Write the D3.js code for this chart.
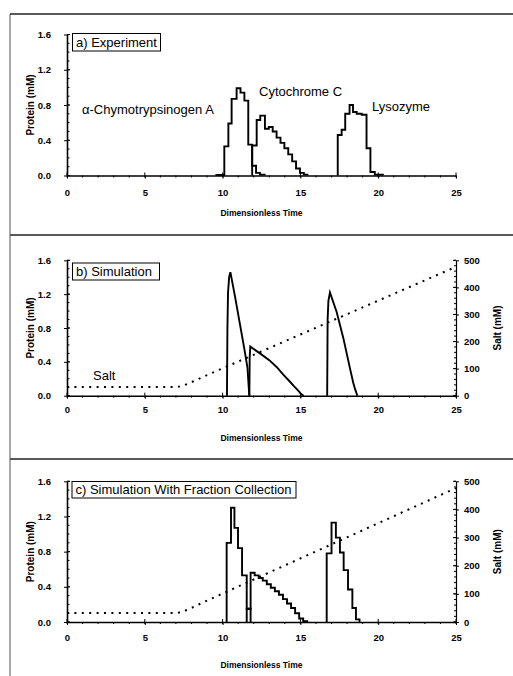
<!DOCTYPE html>
<html><head><meta charset="utf-8">
<script src="https://cdn.jsdelivr.net/npm/d3@7"></script>
<style>
body{margin:0;background:#fff}
svg{display:block}
text{font-family:"Liberation Sans",Arial,Helvetica,sans-serif;fill:#000}
</style></head>
<body><svg id="chart" width="513" height="676"></svg>
<script>
// ---- tick labels ----
const timeTicks = [0, 5, 10, 15, 20, 25];
const proteinTicks = [0, 0.4, 0.8, 1.2, 1.6];
const saltTicks = [0, 100, 200, 300, 400, 500];

// ---- panel a: experiment (fraction edges + values) ----
const expChymoEdges = [9.6, 10.11, 10.37, 10.58, 10.9, 11.15, 11.4, 11.65, 11.9, 12.15, 12.4, 12.7];
const expChymoValues = [0.005, 0.33, 0.59, 0.87, 0.99, 0.94, 0.85, 0.35, 0.11, 0.03, 0.01];
const expCytoEdges = [11.9, 12.19, 12.42, 12.72, 12.97, 13.22, 13.47, 13.72, 13.97, 14.22, 14.47, 14.72, 14.97, 15.22, 15.45];
const expCytoValues = [0.34, 0.63, 0.68, 0.53, 0.55, 0.5, 0.43, 0.37, 0.31, 0.24, 0.16, 0.08, 0.03, 0.01];
const expLysoEdges = [17.4, 17.65, 17.88, 18.16, 18.38, 18.62, 18.94, 19.25, 19.5, 19.78, 20.3];
const expLysoValues = [0.46, 0.52, 0.7, 0.8, 0.72, 0.7, 0.69, 0.31, 0.04, 0.01];

// ---- panel b: simulation (continuous curves) ----
const simChymoT = [10.28, 10.31, 10.35, 10.42, 10.5, 10.8, 11.1, 11.4, 11.6, 11.68, 11.72];
const simChymoV = [0, 0.8, 1.22, 1.4, 1.46, 1.17, 0.86, 0.55, 0.33, 0.1, 0];
const simCytoT = [11.72, 11.74, 11.78, 12.4, 13.0, 13.47, 13.9, 14.33, 14.6, 14.86, 15.05, 15.2];
const simCytoV = [0, 0.45, 0.58, 0.5, 0.42, 0.34, 0.25, 0.165, 0.11, 0.06, 0.02, 0];
const simLysoT = [16.72, 16.75, 16.8, 16.9, 17.33, 17.76, 18.19, 18.4, 18.51, 18.66];
const simLysoV = [0, 0.9, 1.12, 1.22, 0.99, 0.68, 0.32, 0.15, 0.08, 0];

// ---- salt gradient (panels b, c) ----
const saltT = [0, 7.1, 7.5, 8.0, 8.5, 9.0, 25];
const saltV = [32, 32, 38, 50, 63, 76, 476];

// ---- panel c: simulation with fraction collection ----
const fcChymoEdges = [10.26, 10.54, 10.76, 10.99, 11.25, 11.55, 11.8];
const fcChymoValues = [0.9, 1.3, 1.07, 0.84, 0.53, 0.15];
const fcCytoEdges = [11.55, 11.8, 12.06, 12.32, 12.58, 12.84, 13.1, 13.36, 13.62, 13.88, 14.14, 14.4, 14.66, 14.92, 15.18, 15.44];
const fcCytoValues = [0.15, 0.56, 0.53, 0.5, 0.47, 0.43, 0.39, 0.35, 0.31, 0.26, 0.21, 0.16, 0.1, 0.04, 0.01];
const fcLysoEdges = [16.69, 17.0, 17.28, 17.54, 17.78, 18.06, 18.34, 18.57, 18.8];
const fcLysoValues = [0.78, 1.13, 0.96, 0.79, 0.59, 0.37, 0.16, 0.03];

// ---- helpers ----
function stepPoints(edges, values) {
  const pts = [[edges[0], 0]];
  values.forEach((v, i) => { pts.push([edges[i], v]); pts.push([edges[i + 1], v]); });
  pts.push([edges[edges.length - 1], 0]);
  return pts;
}
function curvePoints(ts, vs) { return ts.map((t, i) => [t, vs[i]]); }

const panels = [
  { label: 'a) Experiment', top: 34.5, bottom: 175.5, salt: false, box: [72.5, 33.5, 88, 17.5], textBase: 46.8,
    xLabelPad: 11, titleY: 216,
    series: [stepPoints(expChymoEdges, expChymoValues), stepPoints(expCytoEdges, expCytoValues), stepPoints(expLysoEdges, expLysoValues)] },
  { label: 'b) Simulation', top: 260.3, bottom: 395.7, salt: true, box: [72.5, 263, 87, 17], textBase: 276,
    xLabelPad: 8, titleY: 441,
    series: [curvePoints(simChymoT, simChymoV), curvePoints(simCytoT, simCytoV), curvePoints(simLysoT, simLysoV)] },
  { label: 'c) Simulation With Fraction Collection', top: 481.3, bottom: 622, salt: true, box: [72, 481.5, 224, 16.5], textBase: 494.3,
    xLabelPad: 9.5, titleY: 668,
    series: [stepPoints(fcChymoEdges, fcChymoValues), stepPoints(fcCytoEdges, fcCytoValues), stepPoints(fcLysoEdges, fcLysoValues)] }
];

const svg = d3.select('#chart');
const X0 = 67, X1 = 456;

// frame lines
[14, 235, 459].forEach(yy => svg.append('line').attr('x1', 10).attr('x2', 513).attr('y1', yy).attr('y2', yy)
  .attr('stroke', '#222').attr('stroke-width', 1.4));
svg.append('line').attr('x1', 10).attr('x2', 10).attr('y1', 14).attr('y2', 676).attr('stroke', '#555').attr('stroke-width', 1);

panels.forEach(p => {
  const g = svg.append('g');
  const x = d3.scaleLinear().domain([0, 25]).range([X0, X1]);
  const y = d3.scaleLinear().domain([0, 1.6]).range([p.bottom, p.top]);
  const s = d3.scaleLinear().domain([0, 500]).range([p.bottom, p.top]);

  // left axis
  const ya = g.append('g').attr('transform', `translate(${X0},0)`)
    .call(d3.axisLeft(y).tickValues(proteinTicks).tickFormat(d3.format('.1f')).tickSizeInner(3).tickSizeOuter(0).tickPadding(13));
  ya.selectAll('text').attr('font-size', 9.5).attr('font-weight', 'bold');
  d3.range(0, 1.61, 0.1).forEach(v => g.append('line').attr('x1', X0).attr('x2', X0 + 2.5).attr('y1', y(v)).attr('y2', y(v)).attr('stroke', '#000'));
  proteinTicks.forEach(v => g.append('line').attr('x1', X0).attr('x2', X0 + 3).attr('y1', y(v)).attr('y2', y(v)).attr('stroke', '#000'));

  // bottom axis
  const xa = g.append('g').attr('transform', `translate(0,${p.bottom})`)
    .call(d3.axisBottom(x).tickValues(timeTicks).tickFormat(d3.format('d')).tickSizeInner(3).tickSizeOuter(0).tickPadding(p.xLabelPad));
  xa.selectAll('text').attr('font-size', 9.5).attr('font-weight', 'bold');
  d3.range(0, 25.01, 1).forEach(t => g.append('line').attr('x1', x(t)).attr('x2', x(t)).attr('y1', p.bottom).attr('y2', p.bottom + 2).attr('stroke', '#000'));
  timeTicks.forEach(t => g.append('line').attr('x1', x(t)).attr('x2', x(t)).attr('y1', p.bottom - 3).attr('y2', p.bottom).attr('stroke', '#000'));

  g.selectAll('.domain').attr('stroke-width', 1.6);

  // right salt axis
  if (p.salt) {
    const sa = g.append('g').attr('transform', `translate(${X1},0)`)
      .call(d3.axisRight(s).tickValues(saltTicks).tickFormat(d3.format('d')).tickSizeInner(3).tickSizeOuter(0).tickPadding(5));
    sa.selectAll('text').attr('font-size', 9.5).attr('font-weight', 'bold');
    sa.select('.domain').attr('stroke-width', 1.2);
    d3.range(0, 501, 20).forEach(v => g.append('line').attr('x1', X1 - 2).attr('x2', X1).attr('y1', s(v)).attr('y2', s(v)).attr('stroke', '#000'));
    saltTicks.forEach(v => g.append('line').attr('x1', X1 - 3).attr('x2', X1).attr('y1', s(v)).attr('y2', s(v)).attr('stroke', '#000'));
    g.append('text').attr('transform', `translate(500.5,${(p.top + p.bottom) / 2}) rotate(-90)`)
      .attr('text-anchor', 'middle').attr('font-size', 10).attr('font-weight', 'bold').text('Salt (mM)');
    // salt curve
    g.append('path').datum(curvePoints(saltT, saltV))
      .attr('d', d3.line().x(d => x(d[0])).y(d => s(d[1])))
      .attr('fill', 'none').attr('stroke', '#000').attr('stroke-width', 2).attr('stroke-dasharray', '2,5.4');
  }

  // protein series
  const line = d3.line().x(d => x(d[0])).y(d => y(d[1]));
  p.series.forEach(pts => g.append('path').datum(pts).attr('d', line)
    .attr('fill', 'none').attr('stroke', '#000').attr('stroke-width', 1.9).attr('stroke-linejoin', 'miter'));

  // titles
  g.append('text').attr('x', (X0 + X1) / 2).attr('y', p.titleY).attr('text-anchor', 'middle')
    .attr('font-size', 8.5).attr('font-weight', 'bold').text('Dimensionless Time');
  g.append('text').attr('transform', `translate(33.5,${(p.top + p.bottom) / 2}) rotate(-90)`)
    .attr('text-anchor', 'middle').attr('font-size', 10).attr('font-weight', 'bold').text('Protein (mM)');

  // label box
  g.append('rect').attr('x', p.box[0]).attr('y', p.box[1]).attr('width', p.box[2]).attr('height', p.box[3])
    .attr('fill', '#fff').attr('stroke', '#000').attr('stroke-width', 1);
  g.append('text').attr('x', p.box[0] + 3.5).attr('y', p.textBase).attr('font-size', 13).text(p.label);
});

// annotations
svg.append('text').attr('x', 82).attr('y', 114).attr('font-size', 13).text('α-Chymotrypsinogen A');
svg.append('text').attr('x', 259).attr('y', 96).attr('font-size', 13).text('Cytochrome C');
svg.append('text').attr('x', 372).attr('y', 110.5).attr('font-size', 13).text('Lysozyme');
svg.append('text').attr('x', 93).attr('y', 380).attr('font-size', 13).text('Salt');
</script></body></html>
